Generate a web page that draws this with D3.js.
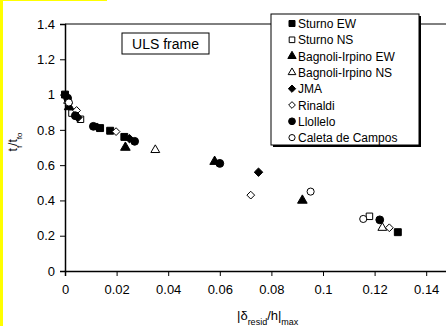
<!DOCTYPE html>
<html>
<head>
<meta charset="utf-8">
<script src="https://cdn.jsdelivr.net/npm/d3@7"></script>
<style>
  body { margin: 0; background: #fff; }
  svg { display: block; font-family: "Liberation Sans", Arial, sans-serif; }
</style>
</head>
<body>
<div id="chart"></div>
<script>
// Data: [drift, tf/tfo]
const sturnoEW    = [[0, 1.0], [0.0136, 0.81], [0.0175, 0.795], [0.023, 0.76], [0.129, 0.22]];
const sturnoNS    = [[0.0027, 0.895], [0.006, 0.86], [0.118, 0.31]];
const bagnoliEW   = [[0.0016, 0.93], [0.0234, 0.70], [0.058, 0.62], [0.092, 0.40]];
const bagnoliNS   = [[0.0012, 0.965], [0.035, 0.686], [0.123, 0.245]];
const jma         = [[0.005, 0.87], [0.0125, 0.815], [0.025, 0.75], [0.075, 0.56]];
const rinaldi     = [[0.0045, 0.91], [0.0198, 0.79], [0.072, 0.43], [0.1257, 0.245]];
const llollelo    = [[0.001, 0.98], [0.004, 0.88], [0.011, 0.82], [0.027, 0.735], [0.060, 0.61], [0.122, 0.29]];
const caleta      = [[0.0015, 0.955], [0.0952, 0.45], [0.1156, 0.295]];

const seriesNames = ["Sturno EW", "Sturno NS", "Bagnoli-Irpino EW", "Bagnoli-Irpino NS",
                     "JMA", "Rinaldi", "Llollelo", "Caleta de Campos"];
const seriesData  = [sturnoEW, sturnoNS, bagnoliEW, bagnoliNS, jma, rinaldi, llollelo, caleta];
const xTicks = [0, 0.02, 0.04, 0.06, 0.08, 0.1, 0.12, 0.14];
const yTicks = [0, 0.2, 0.4, 0.6, 0.8, 1, 1.2, 1.4];

const config = {
  width  : 446,
  height : 326,
  left   : 65,
  right  : 452,
  top    : 24,
  bottom : 271
};

// square diamond (equal diagonals), like the spreadsheet marker
const symbolRhomb = {
  draw: function (context, size) {
    const h = Math.sqrt(size / 2);
    context.moveTo(0, -h);
    context.lineTo(h, 0);
    context.lineTo(0, h);
    context.lineTo(-h, 0);
    context.closePath();
  }
};

// symbol + fill per series
const shapes = [
  {type: d3.symbolSquare,   filled: true,  size: 48},
  {type: d3.symbolSquare,   filled: false, size: 42},
  {type: d3.symbolTriangle, filled: true,  size: 40},
  {type: d3.symbolTriangle, filled: false, size: 34},
  {type: symbolRhomb,       filled: true,  size: 36},
  {type: symbolRhomb,       filled: false, size: 30},
  {type: d3.symbolCircle,   filled: true,  size: 48},
  {type: d3.symbolCircle,   filled: false, size: 40}
];

const svg = d3.select("#chart")
  .append("svg")
    .attr("width", config.width)
    .attr("height", config.height);

// yellow page edge
svg.append("rect").attr("x", 0).attr("y", 0).attr("width", 3).attr("height", config.height).attr("fill", "#ffff00");
svg.append("rect").attr("x", 0).attr("y", 0).attr("width", 107).attr("height", 1).attr("fill", "#ffff00");

const x = d3.scaleLinear().domain([0, 0.15]).range([config.left, config.right]);
const y = d3.scaleLinear().domain([0, 1.4]).range([config.bottom, config.top]);

// frame top line
svg.append("line")
  .attr("x1", config.left).attr("x2", config.right)
  .attr("y1", config.top).attr("y2", config.top)
  .attr("stroke", "#000").attr("stroke-width", 1);

const xAxis = svg.append("g")
  .attr("transform", "translate(0," + config.bottom + ")")
  .call(d3.axisBottom(x).tickValues(xTicks).tickFormat(d3.format("")).tickSize(5).tickPadding(9));

const yAxis = svg.append("g")
  .attr("transform", "translate(" + config.left + ",0)")
  .call(d3.axisLeft(y).tickValues(yTicks).tickFormat(d3.format("")).tickSize(5).tickPadding(5));

[xAxis, yAxis].forEach(function (a) {
  a.selectAll("text").style("font-size", "13px").attr("fill", "#000");
  a.selectAll("line").attr("stroke", "#000");
  a.select(".domain").attr("stroke", "#000").attr("stroke-width", 1.5);
});

// points
seriesData.forEach(function (data, i) {
  const s = shapes[i];
  svg.append("g").selectAll("path")
    .data(data)
    .enter()
      .append("path")
      .attr("d", d3.symbol().type(s.type).size(s.size))
      .attr("transform", function (d) { return "translate(" + x(d[0]) + "," + y(d[1]) + ")"; })
      .attr("fill", s.filled ? "#000" : "#fff")
      .attr("stroke", "#000")
      .attr("stroke-width", 1);
});

// ULS frame label
svg.append("rect")
  .attr("x", 122).attr("y", 33).attr("width", 87).attr("height", 21)
  .attr("fill", "#fff").attr("stroke", "#000");
svg.append("text")
  .attr("x", 165.5).attr("y", 49)
  .attr("text-anchor", "middle")
  .style("font-size", "14px")
  .text("ULS frame");

// legend
const legend = svg.append("g");
legend.append("rect")
  .attr("x", 273).attr("y", 16).attr("width", 148).attr("height", 131)
  .attr("fill", "#000");
legend.append("rect")
  .attr("x", 271).attr("y", 14).attr("width", 148).attr("height", 131)
  .attr("fill", "#fff").attr("stroke", "#000");

seriesNames.forEach(function (name, i) {
  const s = shapes[i];
  const ly = 23.5 + i * 16.3;
  legend.append("path")
    .attr("d", d3.symbol().type(s.type).size(s.size * 0.75))
    .attr("transform", "translate(292," + ly + ")")
    .attr("fill", s.filled ? "#000" : "#fff")
    .attr("stroke", "#000");
  legend.append("text")
    .attr("x", 298).attr("y", ly + 4.5)
    .style("font-size", "12px")
    .text(name);
});

// axis titles
const xt = svg.append("text")
  .attr("x", 237).attr("y", 320)
  .style("font-size", "13px");
xt.append("tspan").text("|δ");
xt.append("tspan").attr("baseline-shift", "sub").style("font-size", "9px").text("resid");
xt.append("tspan").text("/h|");
xt.append("tspan").attr("baseline-shift", "sub").style("font-size", "9px").text("max");

const yt = svg.append("text")
  .attr("transform", "translate(17,142) rotate(-90)")
  .attr("text-anchor", "middle")
  .style("font-size", "12px");
yt.append("tspan").text("t");
yt.append("tspan").attr("baseline-shift", "sub").style("font-size", "8px").text("f");
yt.append("tspan").text("/t");
yt.append("tspan").attr("baseline-shift", "sub").style("font-size", "8px").text("fo");
</script>
</body>
</html>
